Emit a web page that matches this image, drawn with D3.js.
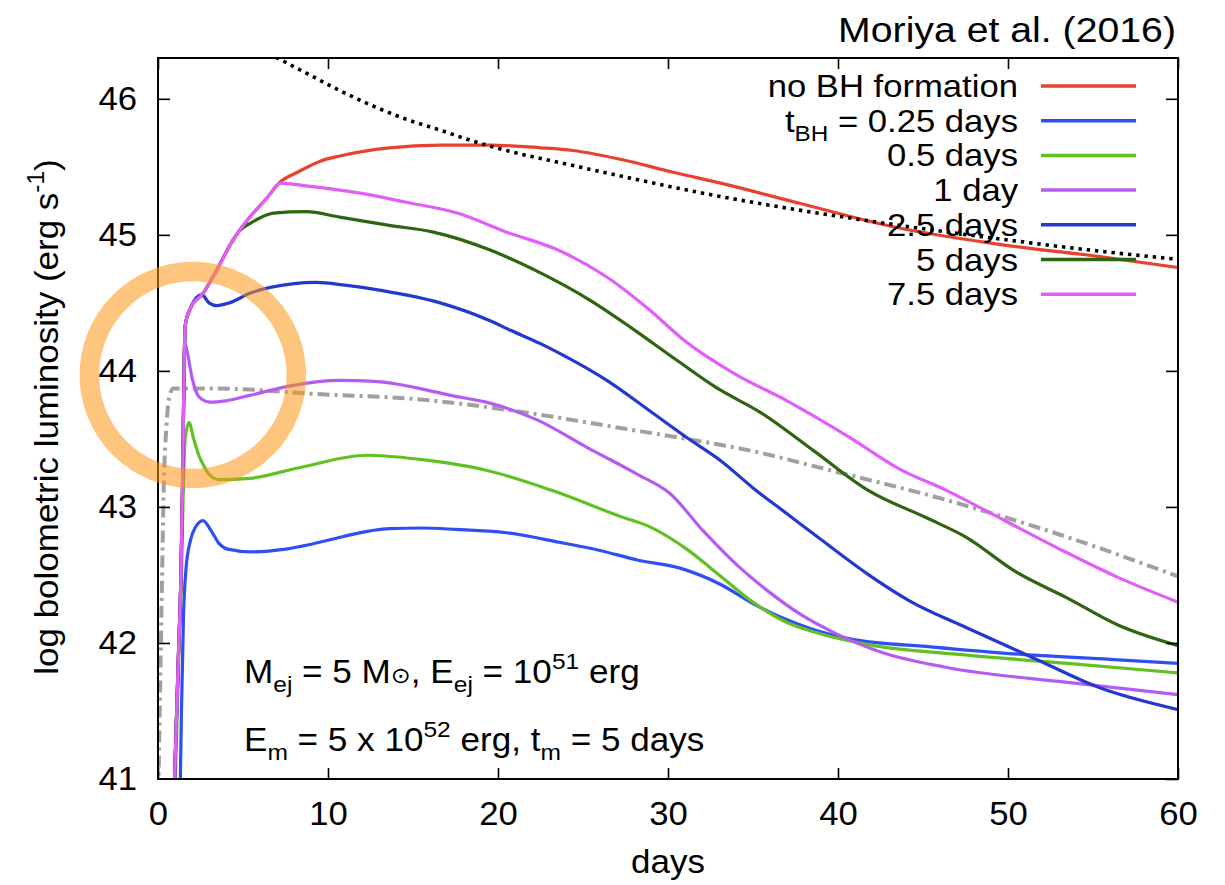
<!DOCTYPE html>
<html>
<head>
<meta charset="utf-8">
<script src="https://cdn.jsdelivr.net/npm/d3@7"></script>
<style>
  html, body { margin: 0; padding: 0; background: #fff; }
  svg { display: block; }
  text { font-family: "Liberation Sans", Arial, Helvetica, sans-serif; fill: #000; }
</style>
</head>
<body>
<svg id="chart" width="1225" height="885"></svg>
<script>
// Bolometric light curves, log L (erg/s) versus days since explosion.
const noBH = [[0.95,40.9],[1.05,41.3],[1.2,41.9],[1.35,42.5],[1.45,43.2],[1.52,43.9],[1.6,44.33],[1.9,44.46],[2.65,44.57],[3.45,44.74],[4.4,44.96],[5.2,45.10],[6.4,45.27],[7.2,45.39],[8.2,45.46],[9.5,45.54],[10.7,45.58],[13.6,45.64],[16.6,45.66],[19.5,45.66],[22.5,45.64],[24.4,45.62],[27.4,45.55],[30.3,45.46],[33.1,45.38],[37.8,45.23],[43.6,45.05],[49.5,44.93],[55.4,44.84],[60,44.76]];
const tBH025 = [[1.3,40.9],[1.38,41.5],[1.5,42.2],[1.65,42.55],[1.9,42.75],[2.2,42.85],[2.65,42.90],[3.1,42.83],[3.6,42.73],[4.1,42.69],[5.5,42.67],[7.5,42.69],[8.8,42.72],[10.5,42.77],[11.5,42.80],[13.6,42.84],[15.5,42.845],[17.5,42.835],[20.5,42.81],[23.6,42.74],[26.0,42.68],[28.2,42.61],[30.7,42.55],[33.1,42.43],[35.0,42.29],[37.0,42.17],[38.5,42.10],[40.7,42.03],[45.6,41.97],[51.5,41.91],[56,41.88],[60,41.85]];
const tBH05 = [[1.0,40.9],[1.2,41.8],[1.4,42.6],[1.5,43.2],[1.6,43.5],[1.82,43.62],[2.1,43.5],[2.4,43.38],[2.7,43.3],[3.0,43.24],[3.6,43.2],[5.4,43.21],[8.35,43.29],[12.3,43.38],[15.4,43.35],[17.2,43.32],[19.3,43.27],[23.2,43.12],[27.2,42.93],[29.0,42.85],[31.1,42.69],[33.1,42.49],[35.0,42.30],[37.0,42.15],[38.9,42.07],[41.7,41.99],[47.6,41.91],[53.5,41.85],[60,41.78]];
const tBH1 = [[0.95,40.9],[1.05,41.3],[1.2,41.9],[1.35,42.5],[1.45,43.2],[1.52,43.9],[1.57,44.2],[1.7,44.15],[2.0,43.95],[2.3,43.83],[2.6,43.79],[3.06,43.77],[4.0,43.78],[5.4,43.82],[7.8,43.89],[10.7,43.93],[12.5,43.925],[14.2,43.90],[15.4,43.87],[17.2,43.82],[19.3,43.77],[22.3,43.64],[25.2,43.44],[28.2,43.24],[30.1,43.10],[32.1,42.82],[34.0,42.58],[36.0,42.37],[37.8,42.21],[39.7,42.08],[42.6,41.93],[46.4,41.82],[53.5,41.71],[60,41.62]];
const tBH25 = [[0.95,40.9],[1.05,41.3],[1.2,41.9],[1.35,42.5],[1.45,43.2],[1.52,43.9],[1.6,44.33],[1.9,44.46],[2.57,44.56],[3.0,44.50],[3.45,44.48],[4.2,44.50],[5.4,44.57],[7.9,44.64],[9.3,44.65],[11,44.63],[13.2,44.59],[16.6,44.50],[19.5,44.37],[20.7,44.30],[22.5,44.20],[23.6,44.13],[26.4,43.93],[29.1,43.69],[31.1,43.51],[33.1,43.34],[35.0,43.14],[37.0,42.95],[39.0,42.76],[41.7,42.51],[44.2,42.31],[47.6,42.11],[51.5,41.89],[55.4,41.67],[60,41.51]];
const tBH5 = [[0.95,40.9],[1.05,41.3],[1.2,41.9],[1.35,42.5],[1.45,43.2],[1.52,43.9],[1.6,44.33],[1.9,44.46],[2.65,44.57],[3.45,44.74],[4.4,44.96],[4.8,45.03],[5.5,45.09],[6.8,45.16],[8.7,45.17],[10.7,45.13],[13.6,45.07],[16.2,45.02],[19.5,44.89],[22.5,44.72],[25.4,44.52],[27.8,44.32],[30.5,44.08],[32.8,43.88],[35.5,43.69],[38.6,43.41],[41.8,43.12],[45.2,42.92],[47.5,42.78],[50.5,42.52],[53.5,42.33],[56.5,42.13],[60,41.98]];
const tBH75 = [[0.95,40.9],[1.05,41.3],[1.2,41.9],[1.35,42.5],[1.45,43.2],[1.52,43.9],[1.6,44.33],[1.9,44.46],[2.65,44.57],[3.45,44.74],[4.4,44.96],[5.2,45.10],[6.4,45.27],[7.2,45.38],[8.7,45.36],[11.7,45.31],[14.6,45.24],[17.6,45.16],[20.5,45.02],[23.5,44.89],[26.4,44.69],[28.8,44.46],[31.0,44.22],[33.9,43.98],[37.0,43.78],[40.7,43.51],[43.6,43.28],[46.4,43.12],[49.8,42.90],[53.2,42.68],[56.5,42.48],[60,42.30]];
// Reference curves: fallback accretion (dotted) and the grey dash-dot model.
const fallback = [[6.5,46.33],[7.0,46.30],[8.7,46.19],[10.7,46.06],[12.6,45.95],[14.6,45.85],[16.6,45.77],[18.5,45.69],[20.5,45.62],[24.4,45.51],[28.4,45.40],[31.9,45.31],[37.8,45.18],[43.6,45.07],[49.5,44.97],[55.4,44.88],[60,44.82]];
const greyModel = [[0.02,40.9],[0.2,42.2],[0.35,43.2],[0.5,43.6],[0.65,43.8],[0.9,43.87],[3.5,43.87],[9.3,43.83],[15.4,43.79],[21.3,43.70],[27.2,43.58],[31.1,43.50],[35,43.41],[39.2,43.28],[46.4,43.05],[53.2,42.79],[60,42.49]];

const xTicks = [0, 10, 20, 30, 40, 50, 60];
const yTicks = [41, 42, 43, 44, 45, 46];
const legendLabels = ["no BH formation", "t|BH| = 0.25 days", "0.5 days", "1 day", "2.5 days", "5 days", "7.5 days"];
const seriesColors = ["#e8412f", "#2f4ff5", "#62c021", "#b45cf2", "#2438cf", "#2f6410", "#e25ef8"];
const seriesData = [noBH, tBH025, tBH05, tBH1, tBH25, tBH5, tBH75];
const highlight = { day: 2.05, logL: 43.97 };

const svg = d3.select("#chart");
const L = 158, R = 1178, T = 58, B = 779;
const x = d3.scaleLinear().domain([0, 60]).range([L, R]);
const y = d3.scaleLinear().domain([41, 46.3]).range([B, T]);

svg.append("defs").append("clipPath").attr("id", "plotclip")
  .append("rect").attr("x", L).attr("y", T).attr("width", R - L).attr("height", B - T);

const line = d3.line().x(d => x(d[0])).y(d => y(d[1])).curve(d3.curveMonotoneX);
const plot = svg.append("g").attr("clip-path", "url(#plotclip)");

// grey dash-dot model
plot.append("path").datum(greyModel).attr("d", line)
  .attr("fill", "none").attr("stroke", "#a0a0a0").attr("stroke-width", 4)
  .attr("stroke-dasharray", "12,5,3,5");

// coloured light curves (later series drawn on top)
seriesData.forEach((s, i) => {
  plot.append("path").datum(s).attr("d", line)
    .attr("fill", "none").attr("stroke", seriesColors[i]).attr("stroke-width", 3.2)
    .attr("stroke-linejoin", "round");
});

// dotted fallback curve
plot.append("path").datum(fallback).attr("d", line)
  .attr("fill", "none").attr("stroke", "#000").attr("stroke-width", 3.6)
  .attr("stroke-dasharray", "3.4,4.9");

// axes: inward ticks on all four sides
const fs = 33, wide = 1.05;
const gx = svg.append("g").attr("transform", `translate(0,${B})`)
  .call(d3.axisBottom(x).tickValues(xTicks).tickSize(-11).tickPadding(23).tickFormat(d3.format("d")));
const gy = svg.append("g").attr("transform", `translate(${L},0)`)
  .call(d3.axisLeft(y).tickValues(yTicks).tickSize(-12).tickPadding(20).tickFormat(d3.format("d")));
svg.append("g").attr("transform", `translate(0,${T})`)
  .call(d3.axisTop(x).tickValues(xTicks).tickSize(-11).tickFormat(""));
svg.append("g").attr("transform", `translate(${R},0)`)
  .call(d3.axisRight(y).tickValues(yTicks).tickSize(-12).tickFormat(""));
svg.selectAll(".domain").remove();
svg.selectAll(".tick line").attr("stroke", "#000").attr("stroke-width", 1.6);
[gx, gy].forEach(g => g.selectAll(".tick text")
  .attr("font-size", fs).attr("font-family", "Liberation Sans, Arial, sans-serif").attr("fill", "#000")
  .attr("transform", `scale(${wide},1)`));
gy.selectAll(".tick").filter(d => d === 41).select("line").remove();

svg.append("rect").attr("x", L).attr("y", T).attr("width", R - L).attr("height", B - T)
  .attr("fill", "none").attr("stroke", "#000").attr("stroke-width", 2);

// helper: text with |sub|, ^sup^ and ~symbol~ segments, stretched horizontally by sx
function richText(g, str, size, sx) {
  const t = g.append("text").attr("font-size", size).attr("transform", `scale(${sx},1)`);
  const parts = str.split(/(\|[^|]*\||\^[^^]*\^|~[^~]*~)/).filter(p => p.length);
  let shift = 0;
  parts.forEach(p => {
    if (p[0] === "|") {
      t.append("tspan").attr("font-size", size * 0.7).attr("dy", size * 0.28 - shift).text(p.slice(1, -1));
      shift = size * 0.28;
    } else if (p[0] === "^") {
      t.append("tspan").attr("font-size", size * 0.7).attr("dy", -size * 0.42 - shift).text(p.slice(1, -1));
      shift = -size * 0.42;
    } else if (p[0] === "~") {
      t.append("tspan").attr("font-size", size * 0.68).attr("dy", -shift)
        .attr("font-family", "DejaVu Sans, sans-serif").text(p.slice(1, -1));
      shift = 0;
    } else {
      t.append("tspan").attr("dy", -shift).text(p);
      shift = 0;
    }
  });
  return t;
}

// legend
const lg = svg.append("g");
legendLabels.forEach((lab, i) => {
  const ry = 86 + i * 34.7;
  const g = lg.append("g").attr("transform", `translate(1018,${ry + 11})`);
  richText(g, lab, 31.5, 1.1).attr("text-anchor", "end");
  lg.append("line").attr("x1", 1041).attr("x2", 1136).attr("y1", ry).attr("y2", ry)
    .attr("stroke", seriesColors[i]).attr("stroke-width", 3.5);
});

// parameter annotations
richText(svg.append("g").attr("transform", "translate(244,683)"), "M|ej| = 5 M~\u2299~, E|ej| = 10^51^ erg", 32.5, 1.08);
richText(svg.append("g").attr("transform", "translate(244,751)"), "E|m| = 5 x 10^52^ erg, t|m| = 5 days", 32.5, 1.08);

// axis titles
svg.append("text").attr("x", (L + R) / 2 / 1.06).attr("y", 873).attr("text-anchor", "middle")
  .attr("transform", "scale(1.06,1)").attr("font-size", 33).text("days");
richText(svg.append("g").attr("transform", "translate(58,417) rotate(-90)"),
  "log bolometric luminosity (erg s^-1^)", 33, 1.06).attr("text-anchor", "middle");

// source credit
svg.append("g").attr("transform", "translate(1176,42)").append("text")
  .attr("text-anchor", "end").attr("transform", "scale(1.09,1)")
  .attr("font-size", 36).text("Moriya et al. (2016)");

// highlight ring around the early peaks
svg.append("circle").attr("cx", x(highlight.day)).attr("cy", y(highlight.logL)).attr("r", 103.5)
  .attr("fill", "none").attr("stroke", "rgb(251,150,20)").attr("stroke-opacity", 0.55).attr("stroke-width", 19.5);
</script>
</body>
</html>
